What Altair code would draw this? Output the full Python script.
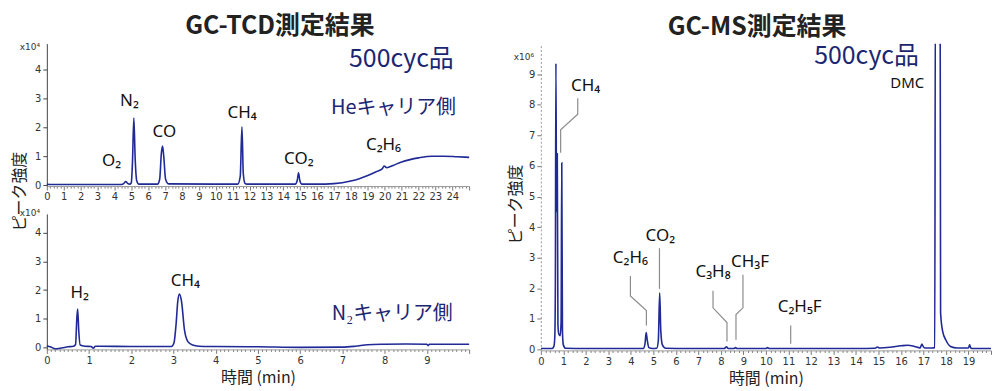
import altair as alt
import pandas as pd

LINE_COLOR = "#1f2a96"
NAVY = "#1b2672"
CJK = "Noto Sans CJK JP"
LAT = "Noto Sans"

# ---------------- GC-TCD, He carrier (x10^4) ----------------
he_time = [0, 0.3, 4.4, 4.55, 4.67, 4.78, 4.9, 5.0, 5.07, 5.15, 5.23, 5.32, 5.45,
           6.55, 6.68, 6.78, 6.85, 6.92, 7.03, 7.2, 11.3, 11.45, 11.55, 11.63, 11.73,
           11.85, 14.7, 14.82, 14.9, 14.98, 15.1, 16.0, 17.0, 18.0, 18.5, 19.0, 19.5,
           19.85, 19.97, 20.12, 20.5, 21.0, 21.5, 22.0, 22.8, 23.5, 24.3, 25.0]
he_int = [0.03, 0.02, 0.02, 0.05, 0.12, 0.06, 0.03, 0.08, 0.8, 2.32, 0.9, 0.15, 0.03,
          0.03, 0.2, 1.1, 1.35, 1.0, 0.2, 0.04, 0.03, 0.3, 2.02, 0.4, 0.06,
          0.03, 0.03, 0.15, 0.42, 0.15, 0.03, 0.03, 0.05, 0.14, 0.22, 0.33, 0.46,
          0.56, 0.66, 0.6, 0.68, 0.8, 0.88, 0.94, 1.0, 1.0, 0.98, 0.96]

# ---------------- GC-TCD, N2 carrier (x10^4) ----------------
n2_time = [0, 0.08, 0.2, 0.35, 0.5, 0.63, 0.68, 0.71, 0.73, 0.755, 0.79, 0.9, 1.05,
           1.1, 1.15, 1.25, 2.0, 2.95, 3.01, 3.06, 3.1, 3.14, 3.19, 3.26, 3.34, 3.45,
           3.6, 4.0, 5.0, 6.0, 7.0, 7.3, 7.6, 8.0, 8.5, 9.0, 9.03, 9.06, 9.5, 10.0]
n2_int = [0.06, 0.02, -0.05, -0.02, 0.02, 0.04, 0.1, 1.0, 1.34, 0.6, 0.08, 0.04, 0.03,
          -0.03, 0.04, 0.04, 0.03, 0.03, 0.15, 0.8, 1.6, 1.86, 1.6, 0.6, 0.2, 0.08,
          0.04, 0.03, 0.02, 0.0, 0.01, 0.04, 0.09, 0.11, 0.12, 0.11, 0.06, 0.11, 0.11, 0.11]

# ---------------- GC-MS (x10^6) ----------------
ms_time = [0.0, 0.5, 0.58, 0.62, 0.645, 0.67, 0.70, 0.73, 0.76, 0.8, 0.86, 0.9, 0.93,
           0.96, 1.0, 1.1, 2.0, 3.0, 4.0, 4.55, 4.63, 4.68, 4.72, 4.8, 4.95, 5.15, 5.22,
           5.28, 5.33, 5.4, 5.55, 6.5, 7.5, 8.15, 8.25, 8.32, 8.58, 8.65, 8.72, 9.5, 10.0,
           10.07, 10.15, 11.0, 12.0, 13.0, 14.0, 14.85, 14.95, 15.05, 15.5, 16.0, 16.3,
           16.6, 16.85, 16.93, 16.97, 17.05, 17.4, 17.5, 17.53, 17.74, 17.76, 17.85, 18.0,
           18.2, 18.5, 19.0, 19.05, 19.1, 19.2, 19.6, 20.0]
ms_int = [0.03, 0.03, 0.1, 0.4, 2.0, 9.35, 4.5, 6.4, 0.8, 0.5, 0.45, 0.9, 6.1,
          0.6, 0.15, 0.04, 0.03, 0.03, 0.03, 0.03, 0.2, 0.55, 0.35, 0.06, 0.03, 0.04, 0.3,
          1.85, 0.6, 0.15, 0.04, 0.03, 0.03, 0.03, 0.09, 0.03, 0.03, 0.06, 0.03, 0.03, 0.03,
          0.06, 0.03, 0.03, 0.03, 0.03, 0.03, 0.04, 0.08, 0.05, 0.07, 0.12, 0.14,
          0.1, 0.05, 0.18, 0.12, 0.05, 0.05, 0.06, 12.0, 12.0, 1.2, 0.6, 0.3,
          0.1, 0.05, 0.05, 0.15, 0.05, 0.03, 0.03, 0.03]

# ---------------- labels ----------------
he_lab_text = ["O₂", "N₂", "CO", "CH₄", "CO₂", "C₂H₆"]
he_lab_t = [3.83, 4.89, 6.96, 11.56, 14.92, 19.93]
he_lab_v = [0.83, 2.9, 1.83, 2.48, 0.9, 1.38]

n2_lab_text = ["H₂", "CH₄"]
n2_lab_t = [0.78, 3.28]
n2_lab_v = [1.91, 2.33]

ms_lab_text = ["CH₄", "C₂H₆", "CO₂", "C₃H₈", "CH₃F", "C₂H₅F"]
ms_lab_t = [1.99, 3.98, 5.31, 7.65, 9.29, 11.5]
ms_lab_v = [8.6, 2.99, 3.7, 2.53, 2.86, 1.4]

# leader lines on GC-MS panel
lead_id = ["CH4"] * 4 + ["C2H6"] * 4 + ["CO2"] * 2 + ["C3H8"] * 4 + ["CH3F"] * 4 + ["C2H5F"] * 2
lead_t = [1.64, 1.64, 0.88, 0.88,
          3.98, 3.98, 4.69, 4.69,
          5.27, 5.27,
          7.65, 7.65, 8.27, 8.27,
          8.98, 8.98, 8.67, 8.67,
          11.1, 11.1]
lead_v = [8.21, 7.69, 7.18, 6.43,
          2.40, 1.75, 1.27, 0.78,
          3.31, 1.98,
          1.92, 1.36, 0.88, 0.26,
          2.44, 1.36, 1.14, 0.32,
          0.78, 0.19]
lead_ord = [0, 1, 2, 3, 0, 1, 2, 3, 0, 1, 0, 1, 2, 3, 0, 1, 2, 3, 0, 1]


def x_axis(maxv, step, title=None):
    vals = [round(i * step, 3) for i in range(int(round(maxv / step)) + 1)]
    is_int = "abs(datum.value - round(datum.value)) < 0.001"
    return alt.Axis(
        values=vals,
        title=title,
        labelExpr=f"({is_int}) && datum.value < {maxv - 0.5} ? format(round(datum.value), 'd') : ''",
        labelOverlap=False,
        labelFlush=False,
        tickSize={"condition": {"test": is_int, "value": 4}, "value": 2},
        tickColor="#777",
        domainColor="#999",
        labelPadding=2,
        titlePadding=4,
        titleFontSize=16,
    )


def make_panel(times, ints, xmax, xstep, ydom, xtitle, yaxis, clip=False):
    df = pd.DataFrame({"t": times, "v": ints})
    xe = alt.X("t:Q", scale=alt.Scale(domain=[0, xmax], nice=False, zero=False),
               axis=x_axis(xmax, xstep, xtitle))
    ye = alt.Y("v:Q", scale=alt.Scale(domain=ydom, nice=False, zero=False), axis=yaxis)
    line = alt.Chart(df).mark_line(color=LINE_COLOR, strokeWidth=1.6, clip=clip,
                                   interpolate="monotone").encode(x=xe, y=ye)
    return line, xe, ye


def text_layer(texts, ts, vs, xe, ye, size, color, font, align="center"):
    df = pd.DataFrame({"t": ts, "v": vs, "label": texts})
    return alt.Chart(df).mark_text(fontSize=size, color=color, font=font, align=align,
                                   baseline="middle").encode(x=xe, y=ye, text="label:N")


# ---- top-left: He carrier ----
he_yaxis = alt.Axis(values=[0, 1, 2, 3, 4], title="ピーク強度", titleX=-27, titleY=148,
                    titleAngle=270, titleAlign="center", titleBaseline="middle",
                    titleFontSize=16, tickSize=4, domainColor="#444", tickColor="#444")
he_line, he_x, he_y = make_panel(he_time, he_int, 25, 0.2, [-0.035, 4.9], None, he_yaxis)
top = alt.layer(
    he_line,
    text_layer(he_lab_text, he_lab_t, he_lab_v, he_x, he_y, 17, "#111", LAT),
    text_layer(["500cyc品"], [20.99], [4.38], he_x, he_y, 25, NAVY, CJK),
    text_layer(["Heキャリア側"], [20.52], [2.66], he_x, he_y, 20, NAVY, CJK),
    text_layer(["x10⁴"], [-1.0], [4.79], he_x, he_y, 9, "#333", "DejaVu Sans"),
).properties(width=424, height=143, title=alt.TitleParams("GC-TCD測定結果", dx=22))

# ---- bottom-left: N2 carrier ----
n2_yaxis = alt.Axis(values=[0, 1, 2, 3, 4], title=None, tickSize=4, domainColor="#444", tickColor="#444")
n2_line, n2_x, n2_y = make_panel(n2_time, n2_int, 10, 0.1, [-0.07, 4.66], "時間 (min)", n2_yaxis)
bottom = alt.layer(
    n2_line,
    text_layer(n2_lab_text, n2_lab_t, n2_lab_v, n2_x, n2_y, 17, "#111", LAT),
    text_layer(["N₂キャリア側"], [8.18], [1.15], n2_x, n2_y, 20, NAVY, CJK),
    text_layer(["x10⁴"], [-0.4], [4.69], n2_x, n2_y, 9, "#333", "DejaVu Sans"),
).properties(width=424, height=136)

left = alt.vconcat(top, bottom, spacing=28, bounds="flush")

# ---- right: GC-MS ----
ms_yaxis = alt.Axis(values=list(range(10)), title="ピーク強度", titleX=-25, titleY=161,
                    titleAngle=270, titleAlign="center", titleBaseline="middle",
                    titleFontSize=16, tickSize=4, domainColor="#999", domainDash=[2, 2],
                    tickColor="#777")
ms_line, ms_x, ms_y = make_panel(ms_time, ms_int, 20, 0.2, [-0.03, 10], "時間 (min)",
                                 ms_yaxis, clip=True)
lead_df = pd.DataFrame({"id": lead_id, "t": lead_t, "v": lead_v, "ord": lead_ord})
leaders = alt.Chart(lead_df).mark_line(color="#8c8c8c", strokeWidth=1.2).encode(
    x=ms_x, y=ms_y, detail="id:N", order="ord:Q")
right = alt.layer(
    ms_line,
    leaders,
    text_layer(ms_lab_text, ms_lab_t, ms_lab_v, ms_x, ms_y, 17, "#111", LAT),
    text_layer(["DMC"], [16.28], [8.7], ms_x, ms_y, 15, "#111", LAT),
    text_layer(["500cyc品"], [14.47], [9.58], ms_x, ms_y, 25, NAVY, CJK),
    text_layer(["x10⁶"], [-0.75], [9.55], ms_x, ms_y, 9, "#333", "DejaVu Sans"),
).properties(width=452, height=308, title=alt.TitleParams("GC-MS測定結果", dx=-9))

chart = alt.hconcat(left, right, spacing=35).properties(
    padding={"left": 4, "top": 5, "right": 0, "bottom": 0}
).configure_view(stroke=None).configure_axis(
    labelFont="DejaVu Sans", labelFontSize=10, labelColor="#333", grid=False,
    titleFont=CJK, titleFontWeight="normal", titleColor="#222"
).configure_title(
    font=CJK, fontSize=25, fontWeight="bold", color="#222", offset=4, anchor="middle"
)

chart.save("out.html", embed_options={"renderer": "svg", "actions": False})
